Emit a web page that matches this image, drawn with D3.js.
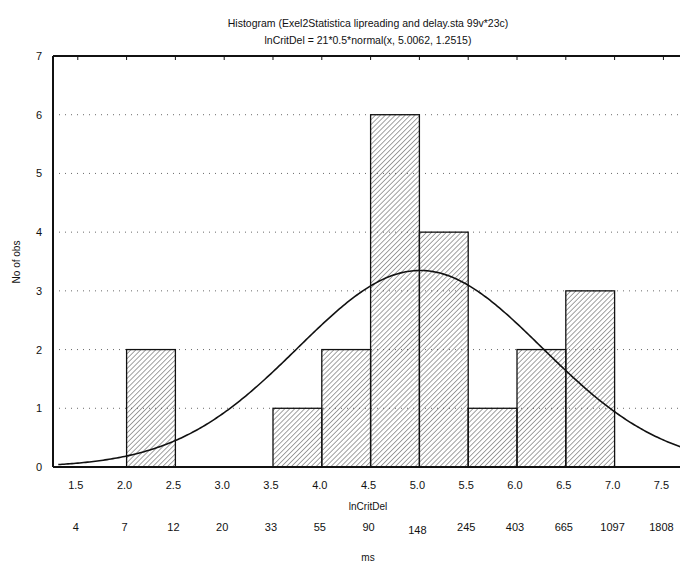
<!DOCTYPE html>
<html><head><meta charset="utf-8">
<script src="https://cdn.jsdelivr.net/npm/d3@7"></script>
<style>body{margin:0;background:#fff}text{font-family:"Liberation Sans",Arial,sans-serif;fill:#111}</style>
</head><body><svg></svg>
<script>
var binStarts = [2.0, 3.5, 4.0, 4.5, 5.0, 5.5, 6.0, 6.5];
var counts = [2, 1, 2, 6, 4, 1, 2, 3];
var xTicks = [1.5, 2.0, 2.5, 3.0, 3.5, 4.0, 4.5, 5.0, 5.5, 6.0, 6.5, 7.0, 7.5];
var msLabels = ["4", "7", "12", "20", "33", "55", "90", "148", "245", "403", "665", "1097", "1808"];
var yTicks = [0, 1, 2, 3, 4, 5, 6, 7];
// fitted curve from title: 21*0.5*normal(x, 5.0062, 1.2515)
var fitN = 21, fitW = 0.5, fitMu = 5.0062, fitSd = 1.2515;

var svg = d3.select("svg").attr("width", 680).attr("height", 564);
var x = d3.scaleLinear().domain([1.246, 7.67]).range([53, 680]);
var y = d3.scaleLinear().domain([0, 7]).range([467, 56]);

var defs = svg.append("defs");
defs.append("pattern").attr("id", "hatch").attr("patternUnits", "userSpaceOnUse")
    .attr("width", 3.5).attr("height", 3.5).attr("patternTransform", "rotate(45)")
    .append("line").attr("x1", 0).attr("y1", 0).attr("x2", 0).attr("y2", 3.5)
    .attr("stroke", "#555").attr("stroke-width", 1.1);
defs.append("clipPath").attr("id", "clip").append("rect")
    .attr("x", 53).attr("y", 56).attr("width", 627).attr("height", 411);

// grid
svg.append("g").selectAll("line").data(yTicks.slice(1, 7)).enter().append("line")
    .attr("x1", 53).attr("x2", 680).attr("y1", function (d) { return y(d); }).attr("y2", function (d) { return y(d); })
    .attr("stroke", "#444").attr("stroke-width", 0.8).attr("stroke-dasharray", "1,5");

// bars
svg.append("g").selectAll("rect").data(binStarts).enter().append("rect")
    .attr("x", function (d) { return x(d); })
    .attr("width", function (d) { return x(d + 0.5) - x(d); })
    .attr("y", function (d, i) { return y(counts[i]); })
    .attr("height", function (d, i) { return y(0) - y(counts[i]); })
    .attr("fill", "url(#hatch)").attr("stroke", "#111").attr("stroke-width", 1.3);

// normal fit
function pdf(v) { return fitN * fitW * Math.exp(-0.5 * Math.pow((v - fitMu) / fitSd, 2)) / (fitSd * Math.sqrt(2 * Math.PI)); }
var xs = d3.range(1.3, 7.7, 0.02);
svg.append("path").datum(xs).attr("clip-path", "url(#clip)")
    .attr("d", d3.line().x(function (d) { return x(d); }).y(function (d) { return y(pdf(d)); }))
    .attr("fill", "none").attr("stroke", "#111").attr("stroke-width", 1.6);

// axes frame
svg.append("line").attr("x1", 53).attr("x2", 53).attr("y1", 56).attr("y2", 467).attr("stroke", "#111").attr("stroke-width", 2);
svg.append("line").attr("x1", 53).attr("x2", 680).attr("y1", 467).attr("y2", 467).attr("stroke", "#111").attr("stroke-width", 2);
svg.append("line").attr("x1", 53).attr("x2", 680).attr("y1", 56).attr("y2", 56).attr("stroke", "#111").attr("stroke-width", 2);
svg.append("g").selectAll("line").data(xTicks).enter().append("line")
    .attr("x1", function (d) { return x(d); }).attr("x2", function (d) { return x(d); })
    .attr("y1", 56).attr("y2", 60).attr("stroke", "#111");

svg.append("g").selectAll("text").data(yTicks).enter().append("text")
    .attr("x", 42).attr("y", function (d) { return y(d) + 4; }).attr("text-anchor", "end")
    .attr("font-size", 11).text(function (d) { return d; });
svg.append("g").selectAll("text").data(xTicks).enter().append("text")
    .attr("x", function (d) { return x(d) - 2; }).attr("y", 489).attr("text-anchor", "middle")
    .attr("font-size", 11).text(function (d) { return d.toFixed(1); });
svg.append("g").selectAll("text").data(msLabels).enter().append("text")
    .attr("x", function (d, i) { return x(xTicks[i]) - 2; }).attr("y", function (d) { return d === "148" ? 534 : 531; })
    .attr("text-anchor", "middle").attr("font-size", 11).text(function (d) { return d; });

svg.append("text").attr("x", 368).attr("y", 510).attr("text-anchor", "middle").attr("font-size", 10).text("lnCritDel");
svg.append("text").attr("x", 368).attr("y", 561).attr("text-anchor", "middle").attr("font-size", 10).text("ms");
svg.append("text").attr("transform", "translate(20,262) rotate(-90)").attr("text-anchor", "middle").attr("font-size", 10).text("No of obs");
svg.append("text").attr("x", 368).attr("y", 27).attr("text-anchor", "middle").attr("font-size", 10.5).text("Histogram (Exel2Statistica lipreading and delay.sta 99v*23c)");
svg.append("text").attr("x", 368).attr("y", 44).attr("text-anchor", "middle").attr("font-size", 10.5).text("lnCritDel = 21*0.5*normal(x, 5.0062, 1.2515)");
</script></body></html>
